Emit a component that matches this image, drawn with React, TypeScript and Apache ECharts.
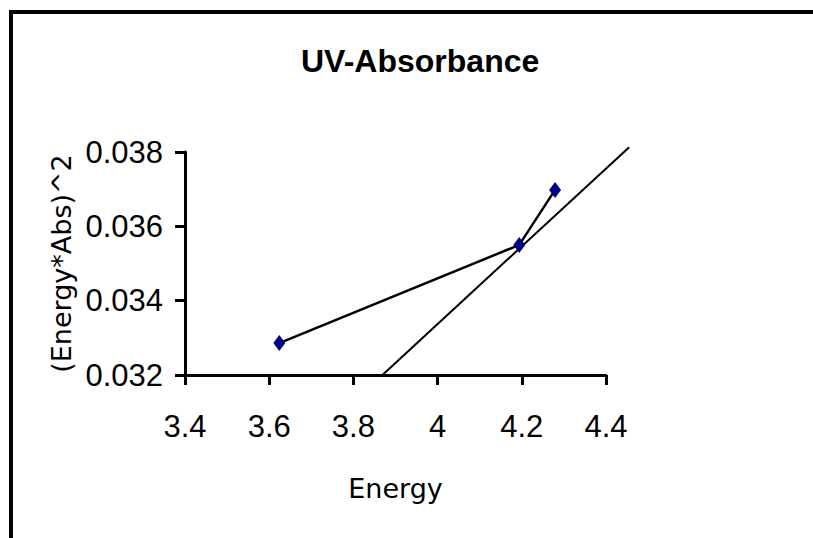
import React, { useEffect, useRef } from "react";
import * as echarts from "echarts";

const energy = [3.624, 4.194, 4.279];
const absSquared = [0.03286, 0.0355, 0.03698];
const trendEnergy = [3.869, 4.455];
const trendValue = [0.032, 0.03813];
const xTicks = { min: 3.4, max: 4.4, step: 0.2 };
const yTicks = { min: 0.032, max: 0.038, step: 0.002 };

export default function App() {
  const ref = useRef<HTMLDivElement>(null);
  useEffect(() => {
    if (!ref.current) return;
    const chart = echarts.init(ref.current, undefined, { renderer: "svg" });
    const tickFont = { fontFamily: "Liberation Sans", fontSize: 31, color: "#000" };
    chart.setOption({
      animation: false,
      backgroundColor: "#fff",
      title: {
        text: "UV-Absorbance",
        left: 296,
        top: 40,
        textStyle: { fontFamily: "Liberation Sans", fontWeight: "bold", fontSize: 32, color: "#000" },
      },
      grid: { left: 185, top: 152, width: 421, height: 223 },
      xAxis: {
        type: "value",
        min: xTicks.min,
        max: xTicks.max,
        interval: xTicks.step,
        name: "Energy",
        nameLocation: "middle",
        nameGap: 100,
        nameTextStyle: { fontFamily: "DejaVu Sans", fontSize: 27, color: "#000" },
        axisLine: { onZero: false, lineStyle: { color: "#000", width: 3 } },
        axisTick: { length: 10, lineStyle: { color: "#000", width: 3 } },
        axisLabel: { ...tickFont, margin: 36 },
        splitLine: { show: false },
      },
      yAxis: {
        type: "value",
        min: yTicks.min,
        max: yTicks.max,
        interval: yTicks.step,
        name: "(Energy*Abs)^2",
        nameLocation: "middle",
        nameRotate: 90,
        nameGap: 75,
        nameTextStyle: { fontFamily: "DejaVu Sans", fontSize: 27, color: "#000" },
        axisLine: { onZero: false, lineStyle: { color: "#000", width: 3 } },
        axisTick: { length: 10, lineStyle: { color: "#000", width: 3 } },
        axisLabel: { ...tickFont, margin: 22 },
        splitLine: { show: false },
      },
      graphic: [
        { type: "rect", shape: { x: 9, y: 10, width: 804, height: 4 }, style: { fill: "#000" } },
        { type: "rect", shape: { x: 9, y: 10, width: 4, height: 528 }, style: { fill: "#000" } },
      ],
      series: [
        {
          type: "custom",
          name: "trend",
          clip: false,
          data: [[trendEnergy[0], trendValue[0], trendEnergy[1], trendValue[1]]],
          encode: { x: [0, 2], y: [1, 3] },
          renderItem: (_params: any, api: any) => {
            const a = api.coord([api.value(0), api.value(1)]);
            const b = api.coord([api.value(2), api.value(3)]);
            return {
              type: "line",
              shape: { x1: a[0], y1: a[1], x2: b[0], y2: b[1] },
              style: { stroke: "#000", lineWidth: 2 },
            };
          },
          z: 2,
        },
        {
          type: "line",
          name: "data",
          data: energy.map((x, i) => [x, absSquared[i]]),
          symbol: "diamond",
          symbolSize: [12, 16],
          itemStyle: { color: "#000080" },
          lineStyle: { color: "#000", width: 2.5 },
          clip: false,
          z: 3,
        },
      ],
    });
    return () => chart.dispose();
  }, []);
  return (
    <div
      ref={ref}
      style={{ position: "fixed", left: 0, top: 0, width: 813, height: 538 }}
    />
  );
}
